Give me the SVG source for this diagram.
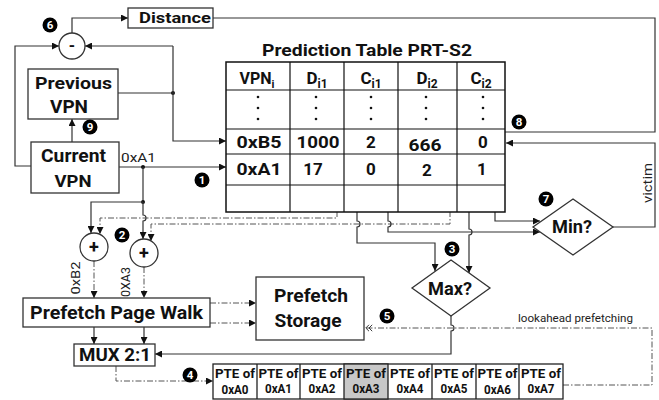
<svg xmlns="http://www.w3.org/2000/svg" width="659" height="400" viewBox="0 0 659 400">
<style>
.t{font-family:Roboto,"Liberation Sans",sans-serif;font-weight:bold;fill:#111;text-anchor:middle}
.r{font-family:Roboto,"Liberation Sans",sans-serif;fill:#222}
.box{fill:#fff;stroke:#333;stroke-width:1.3}
.ln{fill:none;stroke:#333;stroke-width:1.2}
.dd{fill:none;stroke:#555;stroke-width:1;stroke-dasharray:6 2 1.5 2}
.num{fill:#000}
.nt{font-family:Roboto,"Liberation Sans",sans-serif;font-weight:bold;font-size:11.5px;fill:#fff;text-anchor:middle}
</style>
<defs>
<marker id="ah" viewBox="0 0 10 10" refX="10" refY="5" markerWidth="8" markerHeight="7" markerUnits="userSpaceOnUse" orient="auto">
<path d="M0,0 L10,5 L0,10 z" fill="#111"/>
</marker>
<marker id="dch" viewBox="0 0 10 10" refX="10" refY="5" markerWidth="8" markerHeight="8" markerUnits="userSpaceOnUse" orient="auto">
<path d="M1,1 L5,5 L1,9 M5,1 L9,5 L5,9" fill="none" stroke="#333" stroke-width="1.2"/>
</marker>
</defs>
<rect width="659" height="400" fill="#fff"/>

<g id="connectors">
<path class="ln" d="M72,33 V18 H128" marker-end="url(#ah)"/>
<path class="ln" d="M31,166 H15 V46 H59" marker-end="url(#ah)"/>
<path class="ln" d="M118,93 H173"/>
<circle cx="173" cy="93" r="2" fill="#111"/>
<path class="ln" d="M173,46 H85" marker-end="url(#ah)"/>
<path class="ln" d="M173,46 V141 H226" marker-end="url(#ah)"/>
<path class="ln" d="M72,142 V119" marker-end="url(#ah)"/>
<path class="ln" d="M119,167 H226" marker-end="url(#ah)"/>
<circle cx="143" cy="167" r="2" fill="#111"/>
<path class="ln" d="M143,167 V202"/>
<circle cx="143" cy="202" r="2" fill="#111"/>
<path class="ln" d="M143,202 H91 V233" marker-end="url(#ah)"/>
<path class="ln" d="M143,202 V215 a3,3 0 0 1 0,6 V239" marker-end="url(#ah)"/>
<path class="dd" d="M337,165 V218 H100 V234" marker-end="url(#ah)"/>
<path class="dd" d="M450,165 V224 H151 V241" marker-end="url(#ah)"/>
<path class="dd" d="M94,261 V298" marker-end="url(#ah)"/>
<path class="dd" d="M144,267 V298" marker-end="url(#ah)"/>
<path class="ln" d="M357,168 V221 a3,3 0 0 1 0,6 V243 H435 V271" marker-end="url(#ah)"/>
<path class="ln" d="M469,168 V229 a3,3 0 0 1 0,6 V273" marker-end="url(#ah)"/>
<path class="ln" d="M388,143 V221 a3,3 0 0 1 0,6 V232 H540" marker-end="url(#ah)"/>
<path class="ln" d="M495,143 V221 H540" marker-end="url(#ah)"/>
<path class="ln" d="M613,227 H655 V143 H506" marker-end="url(#ah)"/>
<path class="ln" d="M213,18 H655 V132 H442" marker-end="url(#ah)"/>
<path class="dd" d="M210,303 H256" marker-end="url(#ah)"/>
<path class="dd" d="M210,323 H256" marker-end="url(#ah)"/>
<path class="ln" d="M94,327 V344" marker-end="url(#ah)"/>
<path class="ln" d="M144,327 V344" marker-end="url(#ah)"/>
<path class="ln" d="M451,316 V325 a3,3 0 0 1 0,6 V354 H155" marker-end="url(#ah)"/>
<path class="dd" d="M116,366 V381 H213" marker-end="url(#ah)"/>
<path class="dd" d="M563,385 H652 V328 H365" marker-end="url(#dch)"/>
</g>

<g id="distance"><rect class="box" x="128" y="8" width="85" height="20"/><text class="t" x="175" y="23" font-size="15.5" textLength="72" lengthAdjust="spacingAndGlyphs">Distance</text></g>
<g id="minus"><circle class="box" cx="72" cy="46" r="13"/><text class="t" x="72" y="51" font-size="16">-</text></g>
<g id="previous-vpn"><rect class="box" x="28" y="69" width="90" height="50"/><text class="t" x="73.5" y="89" font-size="17" textLength="77" lengthAdjust="spacingAndGlyphs">Previous</text><text class="t" x="69" y="113" font-size="18" textLength="38" lengthAdjust="spacingAndGlyphs">VPN</text></g>
<g id="current-vpn"><rect class="box" x="31" y="142" width="88" height="51"/><text class="t" x="73.5" y="162" font-size="18" textLength="65" lengthAdjust="spacingAndGlyphs">Current</text><text class="t" x="73" y="187" font-size="17" textLength="37" lengthAdjust="spacingAndGlyphs">VPN</text></g>
<text class="r" x="121" y="162" font-size="12" textLength="35" lengthAdjust="spacingAndGlyphs">0xA1</text>

<g id="prediction-table">
<text class="t" x="367" y="56" font-size="16.5" textLength="210" lengthAdjust="spacingAndGlyphs">Prediction Table PRT-S2</text>
<rect x="226" y="62" width="279" height="150" fill="#fff" stroke="#111" stroke-width="1.5"/>
<path d="M226,90 H505 M226,129 H505 M226,154 H505 M226,185 H505 M290,62 V212 M344,62 V212 M398,62 V212 M457,62 V212" stroke="#111" stroke-width="1.2" fill="none"/>
<text class="t" x="257" y="84" font-size="16">VPN<tspan font-size="11" dy="4">i</tspan></text>
<text class="t" x="317" y="84" font-size="17">D<tspan font-size="12" dy="4">i1</tspan></text>
<text class="t" x="371" y="84" font-size="17">C<tspan font-size="12" dy="4">i1</tspan></text>
<text class="t" x="427" y="84" font-size="17">D<tspan font-size="12" dy="4">i2</tspan></text>
<text class="t" x="481" y="84" font-size="17">C<tspan font-size="12" dy="4">i2</tspan></text>
<g fill="#111">
<circle cx="258" cy="97" r="1.3"/><circle cx="258" cy="108" r="1.3"/><circle cx="258" cy="119" r="1.3"/>
<circle cx="316" cy="97" r="1.3"/><circle cx="316" cy="108" r="1.3"/><circle cx="316" cy="119" r="1.3"/>
<circle cx="371" cy="97" r="1.3"/><circle cx="371" cy="108" r="1.3"/><circle cx="371" cy="119" r="1.3"/>
<circle cx="426" cy="97" r="1.3"/><circle cx="426" cy="108" r="1.3"/><circle cx="426" cy="119" r="1.3"/>
<circle cx="483" cy="97" r="1.3"/><circle cx="483" cy="108" r="1.3"/><circle cx="483" cy="119" r="1.3"/>
</g>
<text class="t" x="259" y="148" font-size="16.5" textLength="45" lengthAdjust="spacingAndGlyphs">0xB5</text>
<text class="t" x="318" y="148" font-size="16.5" textLength="43" lengthAdjust="spacingAndGlyphs">1000</text>
<text class="t" x="371" y="148" font-size="17">2</text>
<text class="t" x="425" y="151" font-size="16.5" textLength="33" lengthAdjust="spacingAndGlyphs">666</text>
<text class="t" x="483" y="148" font-size="17">0</text>
<text class="t" x="259" y="175" font-size="16.5" textLength="45" lengthAdjust="spacingAndGlyphs">0xA1</text>
<text class="t" x="313" y="175" font-size="17">17</text>
<text class="t" x="371" y="175" font-size="17">0</text>
<text class="t" x="427" y="176" font-size="17">2</text>
<text class="t" x="482" y="175" font-size="17">1</text>
</g>

<g id="plus1"><circle class="box" cx="94" cy="247" r="14"/><text class="t" x="94" y="253" font-size="18">+</text></g>
<g id="plus2"><circle class="box" cx="144" cy="253" r="14"/><text class="t" x="144" y="259" font-size="18">+</text></g>
<text class="r" font-size="12" text-anchor="middle" textLength="33" lengthAdjust="spacingAndGlyphs" transform="translate(80,278) rotate(-90)">0xB2</text>
<text class="r" font-size="12" text-anchor="middle" textLength="30" lengthAdjust="spacingAndGlyphs" transform="translate(130,282) rotate(-90)">0XA3</text>

<g id="min"><polygon class="box" points="573,199 613,227 573,255 533,227"/><text class="t" x="572" y="233" font-size="18" textLength="40" lengthAdjust="spacingAndGlyphs">Min?</text></g>
<text class="r" font-size="12" text-anchor="middle" textLength="40" lengthAdjust="spacingAndGlyphs" transform="translate(652,183) rotate(-90)">victim</text>
<g id="max"><polygon class="box" points="451,260 490,288 451,316 412,288"/><text class="t" x="450" y="295" font-size="18" textLength="44" lengthAdjust="spacingAndGlyphs">Max?</text></g>

<g id="ppw"><rect class="box" x="23" y="298" width="187" height="29"/><text class="t" x="116.5" y="319" font-size="19" textLength="173" lengthAdjust="spacingAndGlyphs">Prefetch Page Walk</text></g>
<g id="pms"><rect class="box" x="256" y="277" width="108" height="63"/><text class="t" x="311" y="302" font-size="17.5" textLength="74" lengthAdjust="spacingAndGlyphs">Prefetch</text><text class="t" x="308" y="327" font-size="17.5" textLength="67" lengthAdjust="spacingAndGlyphs">Storage</text></g>
<g id="mux"><rect class="box" x="74" y="344" width="81" height="22"/><text class="t" x="115" y="361" font-size="19" textLength="72" lengthAdjust="spacingAndGlyphs">MUX 2:1</text></g>
<text class="r" x="518" y="322" font-size="10.5" textLength="115" lengthAdjust="spacingAndGlyphs">lookahead prefetching</text>

<g id="pte-row">
<rect x="213" y="364" width="350" height="35" fill="#fff" stroke="#222" stroke-width="1.3"/>
<rect x="344" y="364" width="44" height="35" fill="#c8c8c8" stroke="#222" stroke-width="1.3"/>
<path d="M257,364 V399 M300,364 V399 M432,364 V399 M476,364 V399 M519,364 V399" stroke="#222" stroke-width="1.3"/>
<g font-size="12.5">
<text class="t" x="235" y="378" textLength="40" lengthAdjust="spacingAndGlyphs">PTE of</text><text class="t" x="235" y="394" textLength="27" lengthAdjust="spacingAndGlyphs">0xA0</text>
<text class="t" x="278.5" y="378" textLength="40" lengthAdjust="spacingAndGlyphs">PTE of</text><text class="t" x="278.5" y="393" textLength="27" lengthAdjust="spacingAndGlyphs">0xA1</text>
<text class="t" x="322" y="378" textLength="40" lengthAdjust="spacingAndGlyphs">PTE of</text><text class="t" x="322" y="393" textLength="27" lengthAdjust="spacingAndGlyphs">0xA2</text>
<text class="t" x="366" y="378" textLength="40" lengthAdjust="spacingAndGlyphs">PTE of</text><text class="t" x="366" y="393" textLength="27" lengthAdjust="spacingAndGlyphs">0xA3</text>
<text class="t" x="410" y="378" textLength="40" lengthAdjust="spacingAndGlyphs">PTE of</text><text class="t" x="410" y="393" textLength="27" lengthAdjust="spacingAndGlyphs">0xA4</text>
<text class="t" x="454" y="378" textLength="40" lengthAdjust="spacingAndGlyphs">PTE of</text><text class="t" x="454" y="393" textLength="27" lengthAdjust="spacingAndGlyphs">0xA5</text>
<text class="t" x="497.5" y="378" textLength="40" lengthAdjust="spacingAndGlyphs">PTE of</text><text class="t" x="497.5" y="394" textLength="27" lengthAdjust="spacingAndGlyphs">0xA6</text>
<text class="t" x="541" y="378" textLength="40" lengthAdjust="spacingAndGlyphs">PTE of</text><text class="t" x="541" y="393" textLength="27" lengthAdjust="spacingAndGlyphs">0xA7</text>
</g>
</g>

<g id="markers">
<circle class="num" cx="202" cy="180" r="7.5"/><text class="nt" x="202" y="184">1</text>
<circle class="num" cx="122" cy="235" r="7.5"/><text class="nt" x="122" y="239">2</text>
<circle class="num" cx="452" cy="249" r="7.5"/><text class="nt" x="452" y="253">3</text>
<circle class="num" cx="190" cy="375" r="7.5"/><text class="nt" x="190" y="379">4</text>
<circle class="num" cx="387" cy="316" r="7.5"/><text class="nt" x="387" y="320">5</text>
<circle class="num" cx="50" cy="25" r="7.5"/><text class="nt" x="50" y="29">6</text>
<circle class="num" cx="546" cy="199" r="7.5"/><text class="nt" x="546" y="203">7</text>
<circle class="num" cx="519" cy="122" r="7.5"/><text class="nt" x="519" y="126">8</text>
<circle class="num" cx="90" cy="127" r="7.5"/><text class="nt" x="90" y="131">9</text>
</g>
</svg>
